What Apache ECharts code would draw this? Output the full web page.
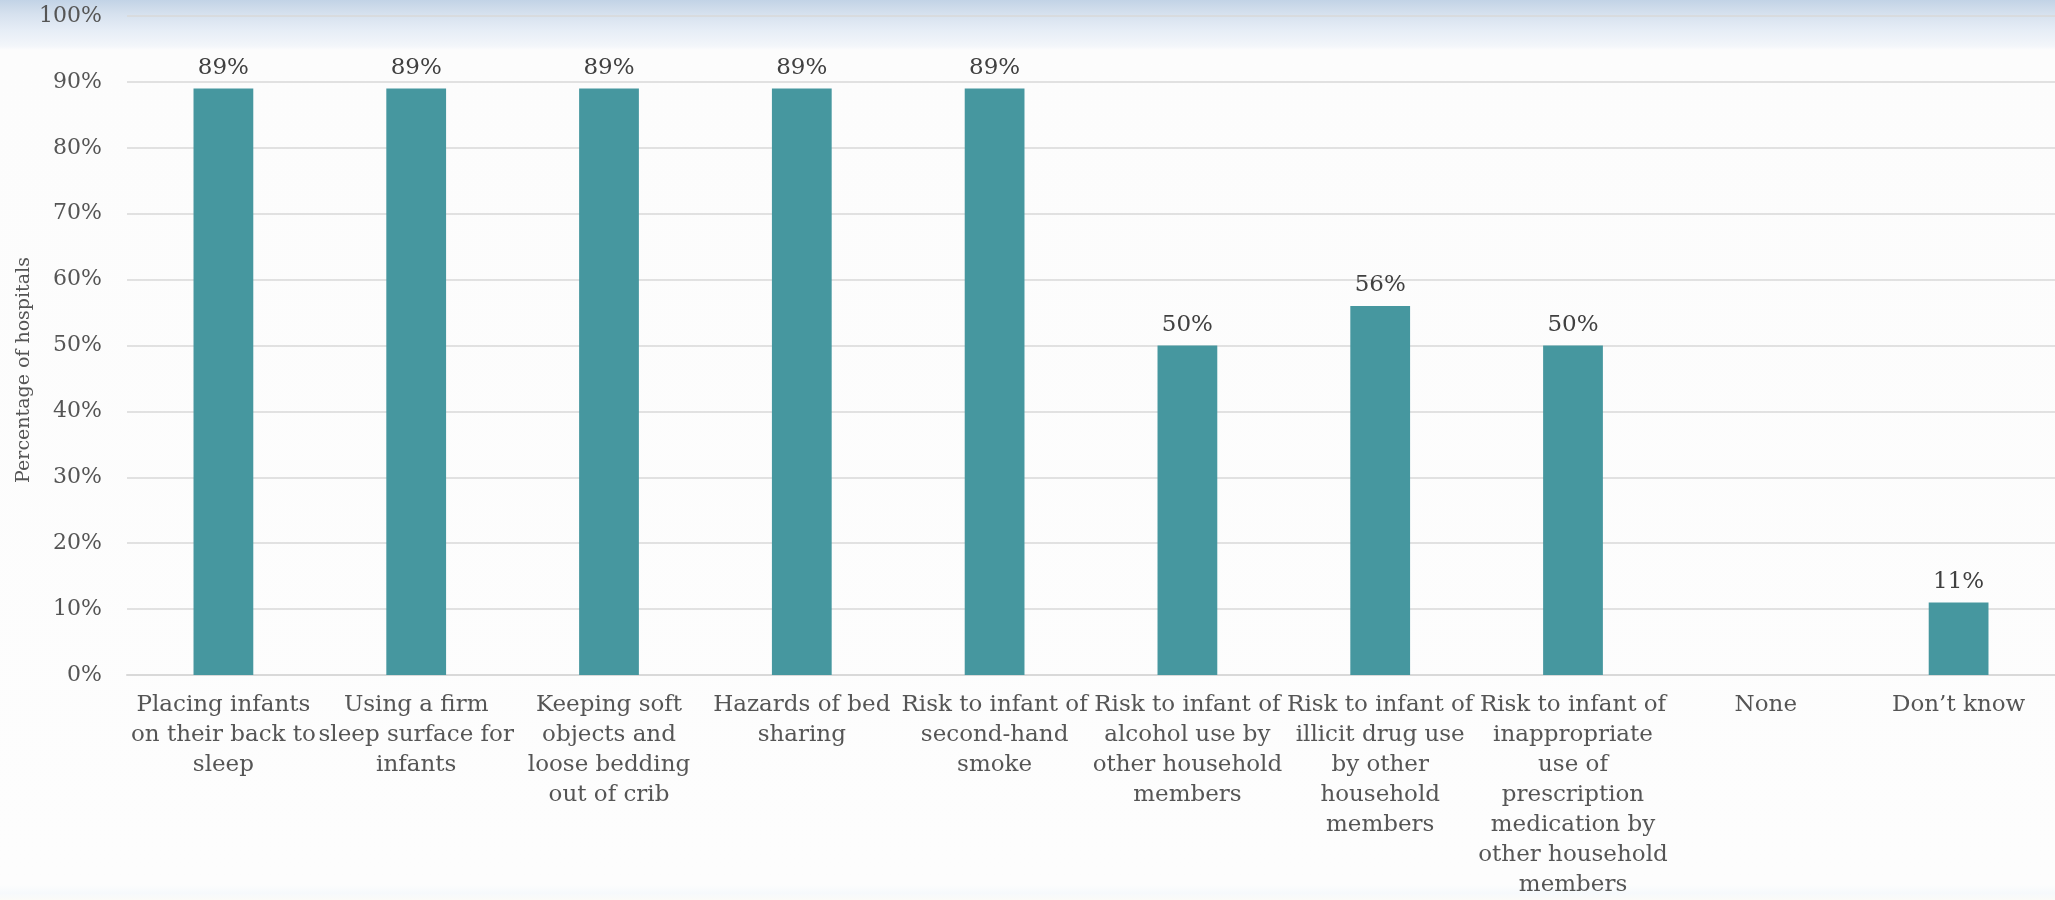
<!DOCTYPE html>
<html>
<head>
<meta charset="utf-8">
<style>
  html, body { margin: 0; padding: 0; }
  #chart {
    width: 2055px; height: 900px;
    background: linear-gradient(to bottom, #c2d3e6 0px, #d6e1ee 14px, #e6edf6 30px, #f3f6fa 46px, #fcfcfc 50px, #fdfdfd 885px, #f6f9fc 893px, #fbfbf8 900px);
  }
</style>
<script src="https://cdn.jsdelivr.net/npm/echarts@6/dist/echarts.min.js"></script>
</head>
<body>
<div id="chart"></div>
<script>
// Topics covered in safe-sleep education, share of hospitals
const categories = [
  'Placing infants\non their back to\nsleep',
  'Using a firm\nsleep surface for\ninfants',
  'Keeping soft\nobjects and\nloose bedding\nout of crib',
  'Hazards of bed\nsharing',
  'Risk to infant of\nsecond-hand\nsmoke',
  'Risk to infant of\nalcohol use by\nother household\nmembers',
  'Risk to infant of\nillicit drug use\nby other\nhousehold\nmembers',
  'Risk to infant of\ninappropriate\nuse of\nprescription\nmedication by\nother household\nmembers',
  'None',
  'Don\u2019t know'
];
const percentHospitals = [89, 89, 89, 89, 89, 50, 56, 50, 0, 11];
const yTicks = { min: 0, max: 100, step: 10 };
const axisTitle = 'Percentage of hospitals';

const serif = '"DejaVu Serif", "Liberation Serif", serif';
const chart = echarts.init(document.getElementById('chart'), null, { renderer: 'canvas' });

chart.setOption({
  backgroundColor: 'transparent',
  animation: false,
  grid: { left: 127, right: 0, top: 16, bottom: 224, containLabel: false },
  xAxis: {
    type: 'category',
    data: categories,
    axisTick: { show: false },
    axisLine: { lineStyle: { color: '#d9d9d9', width: 2 } },
    axisLabel: {
      interval: 0,
      margin: 15,
      fontFamily: serif,
      fontSize: 23,
      lineHeight: 30,
      color: '#555555',
      align: 'center'
    }
  },
  yAxis: {
    type: 'value',
    min: yTicks.min,
    max: yTicks.max,
    interval: yTicks.step,
    axisLine: { show: false },
    axisTick: { show: false },
    splitLine: { lineStyle: { color: '#d9d9d9', width: 1.5 } },
    axisLabel: {
      formatter: '{value}%',
      margin: 25,
      fontFamily: serif,
      fontSize: 22,
      color: '#555555'
    }
  },
  graphic: [{
    type: 'text',
    x: 24,
    y: 370,
    rotation: Math.PI / 2,
    style: {
      text: axisTitle,
      fontFamily: serif,
      fontSize: 19,
      fill: '#555555',
      align: 'center',
      verticalAlign: 'middle'
    }
  }],
  series: [{
    type: 'bar',
    data: percentHospitals,
    barWidth: '31%',
    itemStyle: { color: '#46979f' },
    label: {
      show: true,
      position: 'top',
      distance: 9,
      fontFamily: serif,
      fontSize: 23,
      color: '#404040',
      formatter: p => (p.value ? p.value + '%' : '')
    }
  }]
});
</script>
</body>
</html>
